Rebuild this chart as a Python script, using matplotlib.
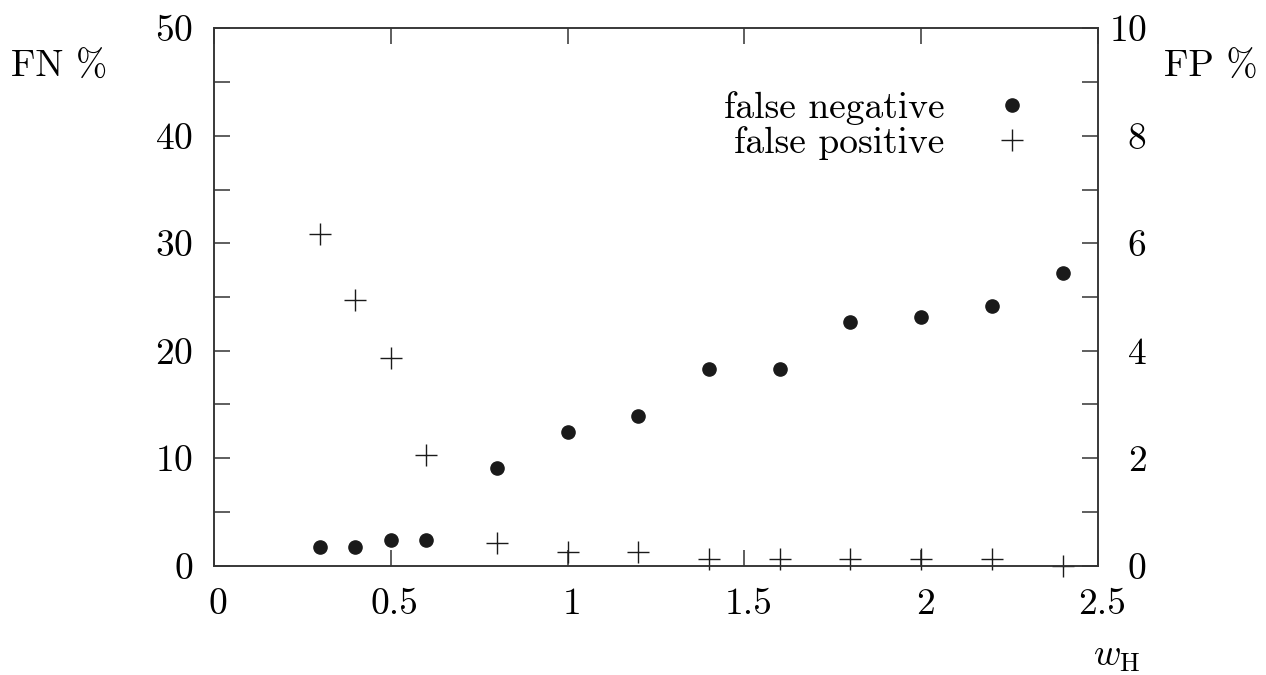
import numpy as np
import matplotlib.pyplot as plt
import matplotlib.transforms as mtransforms
from matplotlib.ticker import MultipleLocator

plt.rcParams['font.family'] = ['cmr10', 'DejaVu Serif']
plt.rcParams['mathtext.fontset'] = 'cm'
plt.rcParams['axes.formatter.use_mathtext'] = True

# dados
w_h = [0.3, 0.4, 0.5, 0.6, 0.8, 1.0, 1.2, 1.4, 1.6, 1.8, 2.0, 2.2, 2.4]
falso_neg = [1.7, 1.7, 2.4, 2.4, 9.1, 12.4, 13.9, 18.3, 18.3, 22.7, 23.1, 24.2, 27.2]
falso_pos = [6.18, 4.95, 3.86, 2.06, 0.43, 0.26, 0.26, 0.13, 0.13, 0.13, 0.13, 0.13, 0.0]

fig = plt.figure(figsize=(12.66, 6.75), dpi=100)
ax = fig.add_axes([0.16904, 0.16193, 0.69826, 0.79615])
ax2 = ax.twinx()

cor_eixo = '#333333'
fs = 27

p1, = ax.plot(w_h, falso_neg, 'o', color='#1a1a1a', markersize=9.5, label='false negative')
p2, = ax2.plot(w_h, falso_pos, '+', color='#1a1a1a', markersize=15.5, markeredgewidth=1.0,
               label='false positive', clip_on=False)

ax.set_xlim(0, 2.5)
ax.set_ylim(0, 50)
ax2.set_ylim(0, 10)

ax.xaxis.set_major_locator(MultipleLocator(0.5))
ax.yaxis.set_major_locator(MultipleLocator(10))
ax.yaxis.set_minor_locator(MultipleLocator(5))
ax2.yaxis.set_major_locator(MultipleLocator(2))
ax2.yaxis.set_minor_locator(MultipleLocator(1))

ax.xaxis.set_major_formatter(lambda v, pos: f'{v:g}')

for a in (ax, ax2):
    for s in a.spines.values():
        s.set_color(cor_eixo)
        s.set_linewidth(1.1)

ax.tick_params(axis='x', which='both', direction='in', top=True, length=11.5, width=1.1,
               color=cor_eixo, labelsize=fs, pad=16)
ax.tick_params(axis='y', which='both', direction='in', left=True, right=False, length=11.5,
               width=1.1, color=cor_eixo, labelsize=fs, pad=15)
ax2.tick_params(axis='y', which='both', direction='in', length=11.5, width=1.1,
                color=cor_eixo, labelsize=fs, pad=35)

# rótulos do eixo direito alinhados à direita
for lbl in ax2.get_yticklabels():
    lbl.set_horizontalalignment('right')

# pequeno deslocamento dos rótulos do eixo x
desloc = mtransforms.ScaledTranslation(4 / 100, 0, fig.dpi_scale_trans)
for lbl in ax.get_xticklabels():
    lbl.set_transform(lbl.get_transform() + desloc)

fig.text(0.009, 0.9, 'FN %', fontsize=fs, ha='left', va='center')
fig.text(0.993, 0.9, 'FP %', fontsize=fs, ha='right', va='center')
fig.text(0.882, 0.002, r'$w_{\mathrm{H}}$', fontsize=fs, ha='center', va='bottom')

ax.legend([p1, p2], ['false negative', 'false positive'], loc='upper right',
          bbox_to_anchor=(0.9724, 0.9457), markerfirst=False, frameon=False,
          fontsize=fs, handletextpad=1.04, labelspacing=0.02, handlelength=1.5)

fig.savefig('out.png', dpi=100)
